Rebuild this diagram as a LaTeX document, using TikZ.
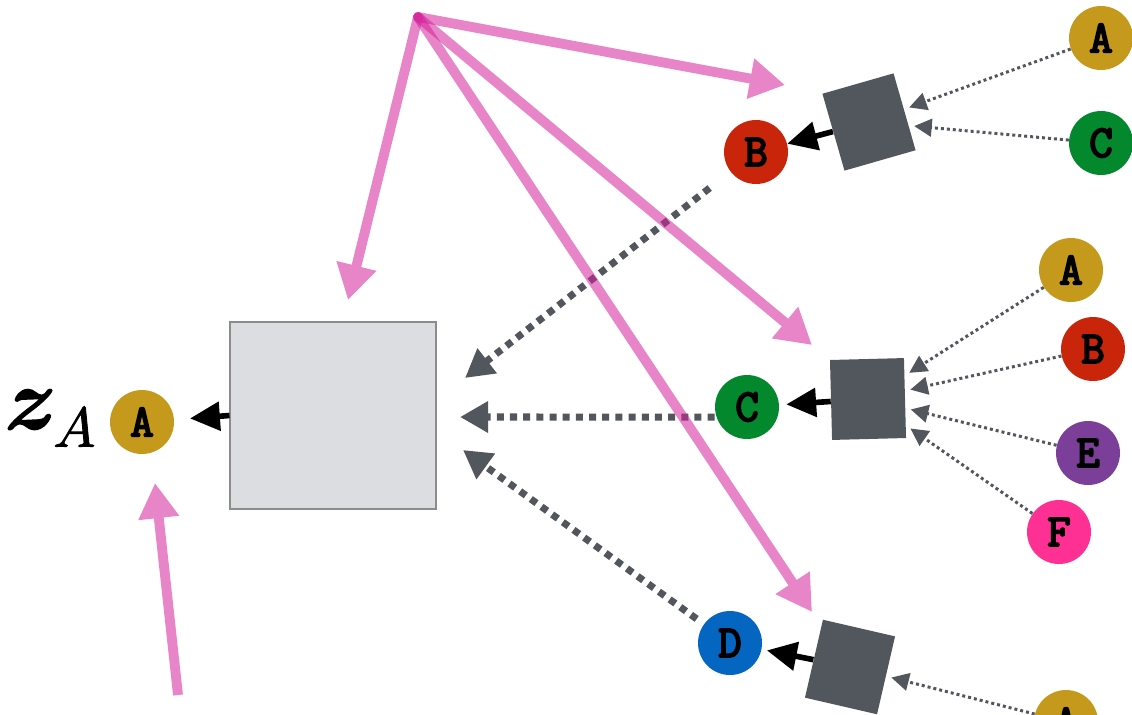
\documentclass[tikz,border=0pt]{standalone}
\usepackage{fontspec}
\usetikzlibrary{arrows.meta, positioning, calc}
\newfontfamily\letterfont{Latin Modern Mono}[FakeBold=4]
\newfontfamily\zfont{Latin Modern Math}[FakeBold=1.5]
\definecolor{goldA}{HTML}{C4991C}
\definecolor{redB}{HTML}{C8250A}
\definecolor{greenC}{HTML}{04882E}
\definecolor{blueD}{HTML}{0466C0}
\definecolor{purpleE}{HTML}{7B3F9A}
\definecolor{pinkF}{HTML}{FF3094}
\definecolor{slate}{HTML}{52575D}
\definecolor{hubpink}{HTML}{D4219B}
\definecolor{mainfill}{HTML}{DCDDE0}
\tikzset{
  letnode/.style={circle,minimum size=1.28cm,inner sep=0pt,
    font=\letterfont\fontsize{26}{26}\selectfont},
  aggnode/.style={rectangle,fill=slate,inner sep=0pt,
    minimum width=1.48cm,minimum height=1.6cm},
  mainnode/.style={rectangle,fill=mainfill,draw=gray!90,line width=0.6pt,
    minimum width=4.12cm,minimum height=3.74cm,inner sep=0pt},
  pinkarr/.style={line width=5.6pt,draw=hubpink,line cap=round,
    -{Triangle[length=20pt,width=22pt]}},
  blkarr/.style={line width=3.2pt,draw=black,
    -{Triangle[length=17pt,width=16pt]}},
  msgarr/.style={line width=4pt,draw=slate,dash pattern=on 4pt off 3.5pt,
    -{Triangle[length=16pt,width=17pt]}},
  inarr/.style={line width=1.7pt,draw=slate,dash pattern=on 1.7pt off 1.7pt,
    -{Triangle[length=10pt,width=10pt]},shorten >=3pt}
}

\begin{document}
\begin{tikzpicture}[x=0.02cm,y=-0.02cm]
\useasboundingbox (0,0) rectangle (1132,714);

% Target node
\node[inner sep=0pt] (zlab) at (50,418)
  {\zfont\fontsize{50}{50}\selectfont 𝒛\raisebox{-10pt}{\fontsize{32}{32}\selectfont 𝐴}};
\node[letnode,fill=goldA] (A) at (142,422) {A};
\node[mainnode] (main) at (333,415.5) {};

% Neighbours
\node[letnode,fill=redB] (B) at (756,152) {B};
\node[letnode,fill=greenC] (C) at (747,407) {C};
\node[letnode,fill=blueD] (D) at (730,643) {D};

\node[aggnode,rotate=16] (aggB) at (869,122) {};
\node[aggnode,rotate=1.5] (aggC) at (868,399) {};
\node[aggnode,rotate=-13] (aggD) at (850,667) {};

% Second hop
\node[letnode,fill=goldA] (BA) at (1101,38) {A};
\node[letnode,fill=greenC] (BC) at (1101,143) {C};
\node[letnode,fill=goldA] (CA) at (1071,270) {A};
\node[letnode,fill=redB] (CB) at (1093,349) {B};
\node[letnode,fill=purpleE] (CE) at (1088,453) {E};
\node[letnode,fill=pinkF] (CF) at (1059,532) {F};
\node[letnode,fill=goldA] (DA) at (1066,722) {A};

\coordinate (hub) at (418,17);
\coordinate (tipM) at (348,300);
\coordinate (tipB) at (785,85);
\coordinate (tipC) at (812,345);
\coordinate (tipD) at (812,612);
\coordinate (low) at (178,695);
\coordinate (tipA) at (155,483);
\coordinate (inB) at (465,378);
\coordinate (inC) at (460,417);
\coordinate (inD) at (463,450);

% Messages
\draw[blkarr,shorten >=9pt] (main.west) -- (A);
\draw[blkarr] (aggB) -- (B);
\draw[blkarr,shorten >=4pt] (aggC) -- (C);
\draw[blkarr,shorten >=3pt] (aggD) -- (D);

\draw[msgarr,shorten <=15pt] (B) -- (inB);
\draw[msgarr] ([yshift=-5.7pt]C.west) -- (inC);
\draw[msgarr,shorten <=5pt] (D) -- (inD);

\foreach \src/\dst in {BA/aggB,BC/aggB,CA/aggC,CB/aggC,CE/aggC,CF/aggC,DA/aggD}
  \draw[inarr] (\src) -- (\dst);

% Shared weights
\foreach \tip in {tipM,tipB,tipC,tipD}{
  \begin{scope}[transparency group,opacity=0.55]
    \draw[pinkarr] (hub) -- (\tip);
  \end{scope}
}
\begin{scope}[transparency group,opacity=0.55]
  \draw[pinkarr,line cap=butt] (low) -- (tipA);
\end{scope}

\end{tikzpicture}
\end{document}
